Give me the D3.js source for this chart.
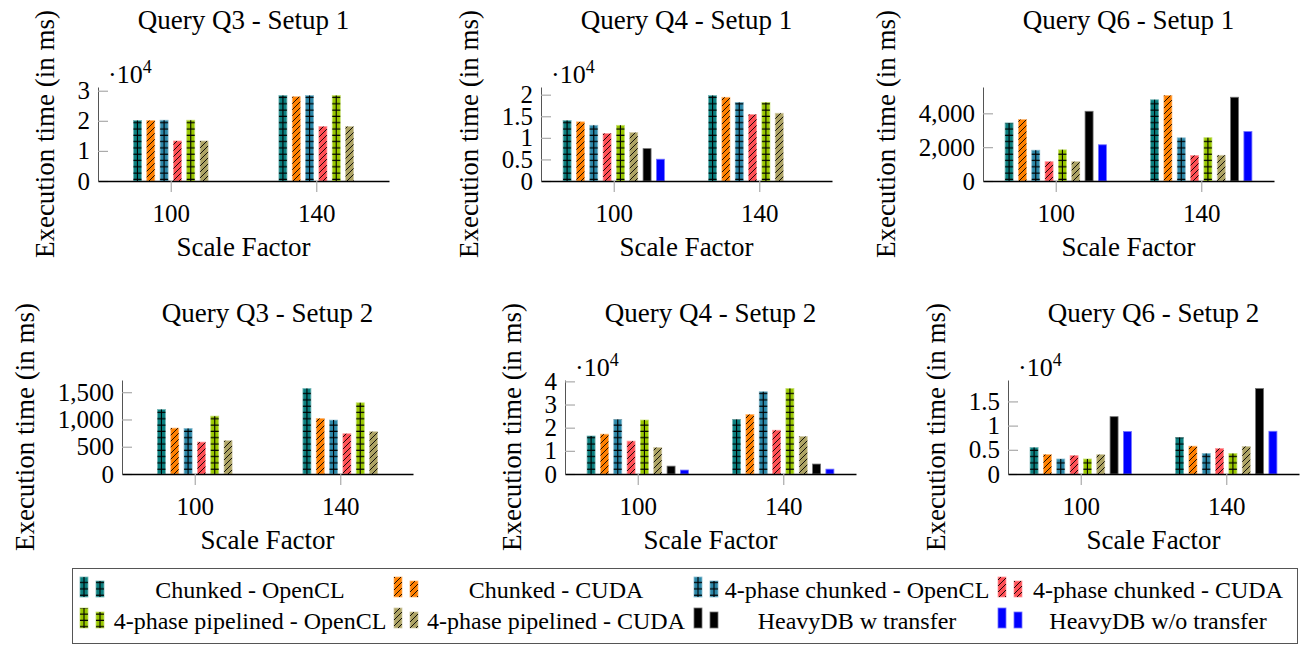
<!DOCTYPE html>
<html>
<head>
<meta charset="utf-8">
<script src="https://cdn.jsdelivr.net/npm/d3@7"></script>
<style>
  body { margin: 0; background: #fff; }
  text { font-family: "Liberation Serif", "Times New Roman", serif; fill: #000; }
</style>
</head>
<body>
<script>
// scale factors on the x axis
const categories = [100, 140];

const seriesNames = [
  'Chunked - OpenCL', 'Chunked - CUDA',
  '4-phase chunked - OpenCL', '4-phase chunked - CUDA',
  '4-phase pipelined - OpenCL', '4-phase pipelined - CUDA',
  'HeavyDB w transfer', 'HeavyDB w/o transfer'
];

// execution times in ms, one row per series, one value per scale factor
const q3Setup1 = [
  [20100, 28400], [20100, 28000], [20200, 28400],
  [13300, 18100], [20200, 28400], [13300, 18100]
];
const q4Setup1 = [
  [14000, 19800], [13700, 19400], [12900, 18200], [11000, 15400],
  [12900, 18200], [11200, 15700], [7500, null], [5050, null]
];
const q6Setup1 = [
  [3430, 4800], [3630, 5050], [1820, 2550], [1140, 1510],
  [1840, 2560], [1140, 1520], [4120, 4950], [2140, 2920]
];
const q3Setup2 = [
  [1184, 1567], [841, 1018], [835, 988],
  [585, 738], [1061, 1305], [610, 775]
];
const q4Setup2 = [
  [16400, 23500], [17200, 25700], [23500, 35500], [14200, 18900],
  [23300, 36900], [11400, 16200], [3400, 4300], [1700, 2100]
];
const q6Setup2 = [
  [5480, 7530], [4000, 5750], [3100, 4250], [3800, 5280],
  [3100, 4250], [4000, 5690], [11850, 17660], [8770, 8830]
];

// y tick values
const q3Setup1Ticks = [0, 10000, 20000, 30000];
const q4Setup1Ticks = [0, 5000, 10000, 15000, 20000];
const q6Setup1Ticks = [0, 2000, 4000];
const q3Setup2Ticks = [0, 500, 1000, 1500];
const q4Setup2Ticks = [0, 10000, 20000, 30000, 40000];
const q6Setup2Ticks = [0, 5000, 10000, 15000];

// styles per series
const seriesStyles = [
  { color: '#0b7f7f', pattern: 'grid' },
  { color: '#ff8000', pattern: 'diag' },
  { color: '#2c87a8', pattern: 'grid' },
  { color: '#ff4f55', pattern: 'diag' },
  { color: '#99c800', pattern: 'grid' },
  { color: '#ada364', pattern: 'diag' },
  { color: '#000000', pattern: 'none' },
  { color: '#0000ff', pattern: 'none' }
];

const W = 1307, H = 646;
const plotW = 291, plotH = 94;
const barW = 8, barStep = 13.33;
const tickFont = 25;
const labelFont = 27;

const panels = [
  { title: 'Query Q3 - Setup 1', data: q3Setup1, ticks: q3Setup1Ticks, exp: true, left: 98, top: 87 },
  { title: 'Query Q4 - Setup 1', data: q4Setup1, ticks: q4Setup1Ticks, exp: true, left: 541, top: 87 },
  { title: 'Query Q6 - Setup 1', data: q6Setup1, ticks: q6Setup1Ticks, exp: false, left: 983, top: 87 },
  { title: 'Query Q3 - Setup 2', data: q3Setup2, ticks: q3Setup2Ticks, exp: false, left: 122, top: 380 },
  { title: 'Query Q4 - Setup 2', data: q4Setup2, ticks: q4Setup2Ticks, exp: true, left: 565, top: 380 },
  { title: 'Query Q6 - Setup 2', data: q6Setup2, ticks: q6Setup2Ticks, exp: true, left: 1008, top: 380 }
];

const svg = d3.select('body').append('svg')
  .attr('width', W)
  .attr('height', H);

// fill patterns (absolute coordinates, like pgf patterns)
const defs = svg.append('defs');
defs.append('pattern')
  .attr('id', 'hlines')
  .attr('patternUnits', 'userSpaceOnUse')
  .attr('width', 10).attr('height', 6.3)
  .append('line')
  .attr('x1', 0).attr('x2', 10).attr('y1', 3).attr('y2', 3)
  .attr('stroke', '#000').attr('stroke-width', 1.2);
defs.append('pattern')
  .attr('id', 'diag')
  .attr('patternUnits', 'userSpaceOnUse')
  .attr('width', 6).attr('height', 6)
  .append('path')
  .attr('d', 'M-1,1 L1,-1 M0,6 L6,0 M5,7 L7,5')
  .attr('stroke', '#000').attr('stroke-width', 0.9);

// one bar with its pattern overlay
function drawBar(g, x0, yTop, h, style) {
  g.append('rect')
    .attr('x', x0).attr('y', yTop)
    .attr('width', barW).attr('height', h)
    .attr('fill', style.color)
    .attr('stroke', d3.interpolateRgb(style.color, '#fff')(0.45))
    .attr('stroke-width', 0.8);
  if (style.pattern === 'none') return;
  g.append('rect')
    .attr('x', x0).attr('y', yTop)
    .attr('width', barW).attr('height', h)
    .attr('fill', style.pattern === 'grid' ? 'url(#hlines)' : 'url(#diag)');
  if (style.pattern === 'grid') {
    g.append('line')
      .attr('x1', x0 + barW / 2).attr('x2', x0 + barW / 2)
      .attr('y1', yTop).attr('y2', yTop + h)
      .attr('stroke', '#000').attr('stroke-width', 1.1);
  }
}

panels.forEach(p => {
  const g = svg.append('g');
  const bottom = p.top + plotH;

  const x = d3.scaleLinear().domain([80, 160]).range([p.left, p.left + plotW]);
  const maxVal = d3.max(p.data.flat());
  const y = d3.scaleLinear().domain([0, maxVal * 1.1]).range([bottom, p.top]);

  // bars
  const n = p.data.length;
  p.data.forEach((vals, i) => {
    const shift = (i - (n - 1) / 2) * barStep;
    vals.forEach((v, j) => {
      if (v == null) return;
      const cx = x(categories[j]) + shift;
      drawBar(g, cx - barW / 2, y(v), y(0) - y(v), seriesStyles[i]);
    });
  });

  // y axis
  const fmt = p.exp ? (d => d3.format('~g')(d / 1e4)) : d3.format(',');
  const yAxisG = g.append('g')
    .attr('transform', `translate(${p.left},0)`)
    .call(d3.axisLeft(y).tickValues(p.ticks).tickFormat(fmt)
      .tickSizeInner(-10).tickSizeOuter(0).tickPadding(8));
  yAxisG.select('.domain').attr('stroke', '#555').attr('stroke-width', 1);
  yAxisG.selectAll('.tick line').attr('stroke', '#aaa').attr('stroke-width', 1.2);
  yAxisG.selectAll('.tick text')
    .attr('font-size', tickFont)
    .attr('font-family', '"Liberation Serif", serif')
    .attr('fill', '#000');

  // x axis
  const xAxisG = g.append('g')
    .attr('transform', `translate(0,${bottom})`)
    .call(d3.axisBottom(x).tickValues(categories).tickFormat(d3.format('d'))
      .tickSizeInner(11).tickSizeOuter(0).tickPadding(12));
  xAxisG.select('.domain').attr('stroke', '#000').attr('stroke-width', 1.4);
  xAxisG.selectAll('.tick line').attr('stroke', '#aaa').attr('stroke-width', 1.2);
  xAxisG.selectAll('.tick text')
    .attr('font-size', tickFont)
    .attr('font-family', '"Liberation Serif", serif')
    .attr('fill', '#000');

  // exponent marker
  if (p.exp) {
    const t = g.append('text')
      .attr('x', p.left + 10)
      .attr('y', p.top - 4)
      .attr('font-size', 26);
    t.append('tspan').text('\u00b710');
    t.append('tspan').attr('dy', -10).attr('font-size', 18).text('4');
  }

  // title
  g.append('text')
    .attr('x', p.left + plotW / 2)
    .attr('y', p.top - 67)
    .attr('dy', '0.35em')
    .attr('text-anchor', 'middle')
    .attr('font-size', labelFont)
    .text(p.title);

  // x label
  g.append('text')
    .attr('x', p.left + plotW / 2)
    .attr('y', bottom + 66)
    .attr('dy', '0.35em')
    .attr('text-anchor', 'middle')
    .attr('font-size', labelFont)
    .text('Scale Factor');

  // y label, placed left of the tick labels
  let minX = Infinity;
  yAxisG.selectAll('.tick text').each(function () {
    const b = this.getBBox();
    minX = Math.min(minX, p.left + b.x);
  });
  g.append('text')
    .attr('transform', `translate(${minX - 33},${p.top + plotH / 2}) rotate(-90)`)
    .attr('dy', '0.35em')
    .attr('text-anchor', 'middle')
    .attr('font-size', labelFont)
    .text('Execution time (in ms)');
});

// legend
const legend = svg.append('g');
legend.append('rect')
  .attr('x', 72.5).attr('y', 568.5)
  .attr('width', 1225).attr('height', 75)
  .attr('fill', '#fff')
  .attr('stroke', '#555')
  .attr('stroke-width', 1);

const iconX = [80, 394, 694, 998];
const textCX = [250, 556, 857, 1158];
const rowBase = [598, 629];

seriesNames.forEach((name, i) => {
  const col = i % 4, row = Math.floor(i / 4);
  const base = rowBase[row] - 1;
  const st = seriesStyles[i];
  drawBar(legend, iconX[col], base - 20, 20, st);
  drawBar(legend, iconX[col] + 16, base - 16, 16, st);
  legend.append('text')
    .attr('x', textCX[col])
    .attr('y', rowBase[row])
    .attr('text-anchor', 'middle')
    .attr('font-size', 24)
    .text(name);
});
</script>
</body>
</html>
